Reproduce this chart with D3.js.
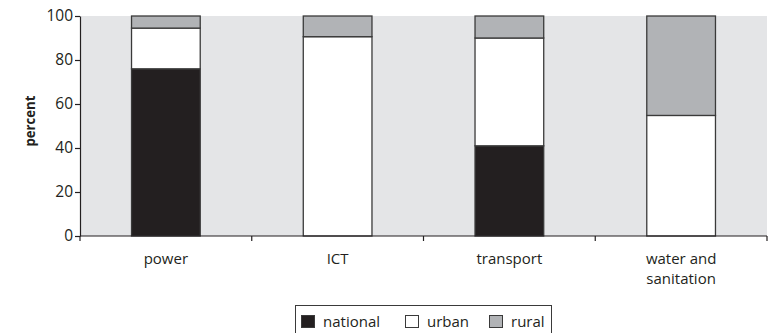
<!DOCTYPE html>
<html><head><meta charset="utf-8">
<script src="https://cdn.jsdelivr.net/npm/d3@7"></script>
<style>
body{margin:0;background:#fff;}
text{font-family:"Open Sans",sans-serif;fill:#231f20;}
</style></head>
<body><svg id="c" width="774" height="333"></svg>
<script>
const categories = ["power", "ICT", "transport", "water and|sanitation"];
const national = [76, 0, 41, 0];
const urban = [18.5, 90.6, 49, 54.8];
const rural = [5.5, 9.4, 10, 45.2];
const yTicks = [0, 20, 40, 60, 80, 100];
const seriesNames = ["national", "urban", "rural"];
const seriesColors = ["#231f20", "#ffffff", "#b1b3b6"];

const svg = d3.select("#c");
const m = {l: 80, r: 7, t: 16, b: 97};
const W = 774, H = 333;
const x = d3.scaleBand().domain(categories).range([m.l, W - m.r]).paddingInner(0).paddingOuter(0);
const y = d3.scaleLinear().domain([0, 100]).range([H - m.b, m.t]);

svg.append("rect").attr("x", m.l).attr("y", m.t).attr("width", W - m.r - m.l).attr("height", H - m.b - m.t).attr("fill", "#e4e5e7");

const data = categories.map((c, i) => ({cat: c, national: national[i], urban: urban[i], rural: rural[i]}));
const stack = d3.stack().keys(seriesNames)(data);
const bw = x.bandwidth() * 0.4;
stack.forEach((s, si) => {
  svg.append("g").selectAll("rect").data(s.filter(d => d[1] - d[0] > 0)).join("rect")
    .attr("x", d => x(d.data.cat) + (x.bandwidth() - bw) / 2)
    .attr("width", bw)
    .attr("y", d => y(d[1]))
    .attr("height", d => y(d[0]) - y(d[1]))
    .attr("fill", seriesColors[si])
    .attr("stroke", "#3a3a3a").attr("stroke-width", 1.3);
});

// y axis
const ya = svg.append("g").attr("transform", `translate(${m.l},0)`)
  .call(d3.axisLeft(y).tickValues(yTicks).tickSize(5).tickSizeOuter(0));
ya.select(".domain").attr("stroke", "#231f20").attr("stroke-width", 1.2);
ya.selectAll(".tick line").attr("stroke", "#231f20").attr("stroke-width", 1.2);
ya.selectAll(".tick text").attr("font-size", 15.5).attr("x", -7).attr("fill", "#231f20")
  .style("font-family", "'Open Sans',sans-serif");

// x axis
const xa = svg.append("g").attr("transform", `translate(0,${y(0)})`);
xa.append("line").attr("x1", m.l).attr("x2", W - m.r).attr("stroke", "#231f20").attr("stroke-width", 1.2);
const bounds = categories.map(c => x(c)).concat([x(categories[categories.length - 1]) + x.bandwidth()]);
xa.selectAll("line.t").data(bounds).join("line").attr("class", "t")
  .attr("x1", d => d).attr("x2", d => d).attr("y1", 0).attr("y2", 5)
  .attr("stroke", "#231f20").attr("stroke-width", 1.2);
categories.forEach(c => {
  const lines = c.split("|");
  const t = xa.append("text").attr("text-anchor", "middle").attr("font-size", 15)
    .attr("x", x(c) + x.bandwidth() / 2).attr("y", 27.5);
  lines.forEach((l, i) => t.append("tspan").attr("x", x(c) + x.bandwidth() / 2).attr("dy", i === 0 ? 0 : 20).text(l));
});

// y label
svg.append("text").attr("transform", `translate(35,121) rotate(-90)`)
  .attr("text-anchor", "middle").attr("font-size", 15).attr("font-weight", "bold")
  .attr("textLength", 51).attr("lengthAdjust", "spacingAndGlyphs").text("percent");

// legend
const lg = svg.append("g");
lg.append("rect").attr("x", 295.5).attr("y", 305.5).attr("width", 256).attr("height", 32)
  .attr("fill", "#fff").attr("stroke", "#3a3a3a").attr("stroke-width", 1);
const lx = [301, 405, 489];
seriesNames.forEach((n, i) => {
  lg.append("rect").attr("x", lx[i] + 0.5).attr("y", 315.5).attr("width", 13).attr("height", 12)
    .attr("fill", seriesColors[i]).attr("stroke", "#3a3a3a").attr("stroke-width", 1);
  lg.append("text").attr("x", lx[i] + 22).attr("y", 327).attr("font-size", 15).text(n);
});
</script></body></html>
